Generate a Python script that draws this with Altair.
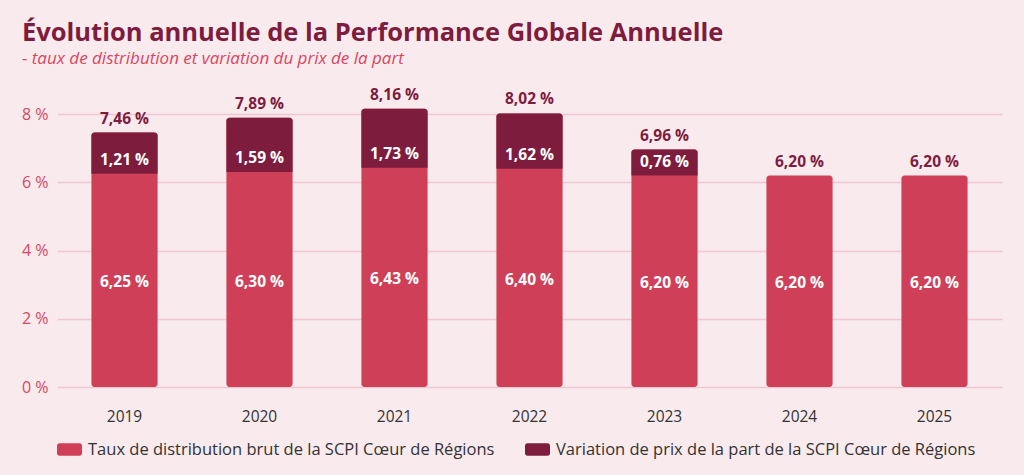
import altair as alt
import pandas as pd

years = ["2019", "2020", "2021", "2022", "2023", "2024", "2025"]
taux = [6.25, 6.30, 6.43, 6.40, 6.20, 6.20, 6.20]
variation = [1.21, 1.59, 1.73, 1.62, 0.76, 0.0, 0.0]
totals = [7.46, 7.89, 8.16, 8.02, 6.96, 6.20, 6.20]
series_names = ["Taux de distribution brut de la SCPI Cœur de Régions",
                "Variation de prix de la part de la SCPI Cœur de Régions"]
y_ticks = [0, 2, 4, 6, 8]

LIGHT = "#cf4058"
DARK = "#7e1c3e"
BG = "#f9eaee"
FONT = "Open Sans"


def fr(v):
    return f"{v:.2f}".replace(".", ",") + " %"


rows = []
for yr, t, v, tot in zip(years, taux, variation, totals):
    rows.append({"year": yr, "series": series_names[0], "y0": 0.0, "y1": tot,
                 "mid": t / 2, "label": fr(t), "kind": "base"})
    if v > 0:
        rows.append({"year": yr, "series": series_names[1], "y0": t, "y1": tot,
                     "mid": t, "label": fr(v), "kind": "top"})
df = pd.DataFrame(rows)
tot_df = pd.DataFrame({"year": years, "total": totals, "label": [fr(v) for v in totals]})

x_enc = alt.X("year:N", title=None, sort=years,
              scale=alt.Scale(paddingInner=0.51, paddingOuter=0.255),
              axis=alt.Axis(labelAngle=0, ticks=False, domain=False, labelFontSize=15.5,
                            labelColor="#333333", labelPadding=22, labelFont=FONT))
y_scale = alt.Scale(domain=[0, 9], nice=False)
y_axis = alt.Axis(values=y_ticks, labelExpr="datum.value + ' %'", ticks=False, domain=False,
                  labelFontSize=16, labelColor="#d9465e", labelPadding=9, labelFont=FONT,
                  gridColor="#f0c6d0", gridWidth=1.5, title=None)
color = alt.Color("series:N", sort=series_names,
                  scale=alt.Scale(domain=series_names, range=[LIGHT, DARK]),
                  legend=alt.Legend(title=None, orient="none", direction="horizontal",
                                    legendX=0, legendY=357, labelFontSize=16.5,
                                    labelColor="#333333", labelFont=FONT,
                                    symbolType="M-0.8,-0.5H0.8A0.2,0.2 0 0 1 1,-0.3V0.3A0.2,0.2 0 0 1 0.8,0.5H-0.8A0.2,0.2 0 0 1 -1,0.3V-0.3A0.2,0.2 0 0 1 -0.8,-0.5Z",
                                    symbolSize=625, symbolStrokeWidth=0, symbolOpacity=1,
                                    labelOffset=6, columnPadding=30, labelLimit=600))

base = alt.Chart(df)
bars_base = base.transform_filter("datum.kind == 'base'").mark_bar(cornerRadius=3).encode(
    x=x_enc, y=alt.Y("y0:Q", scale=y_scale, axis=y_axis), y2="y1:Q", color=color)
bars_top = base.transform_filter("datum.kind == 'top'").mark_bar(
    cornerRadiusTopLeft=3, cornerRadiusTopRight=3).encode(
    x=alt.X("year:N", sort=years), y="y0:Q", y2="y1:Q", color=color)
txt_base = base.transform_filter("datum.kind == 'base'").mark_text(
    color="white", fontWeight="bold", fontSize=15.5, font=FONT, dy=2).encode(
    x=alt.X("year:N", sort=years), y="mid:Q", text="label:N")
txt_top = base.transform_filter("datum.kind == 'top'").mark_text(
    color="white", fontWeight="bold", fontSize=15.5, font=FONT, dy=-14).encode(
    x=alt.X("year:N", sort=years), y="mid:Q", text="label:N")
txt_tot = alt.Chart(tot_df).mark_text(
    color=DARK, fontWeight="bold", fontSize=15.5, font=FONT, dy=-14).encode(
    x=alt.X("year:N", sort=years), y="total:Q", text="label:N")

chart = alt.layer(bars_base, bars_top, txt_base, txt_top, txt_tot).properties(
    width=945, height=307,
    title=alt.Title("Évolution annuelle de la Performance Globale Annuelle",
                    subtitle="- taux de distribution et variation du prix de la part",
                    anchor="start", frame="group", dx=-35, offset=13,
                    font=FONT, fontSize=25.5, fontWeight="bold", color=DARK,
                    subtitleFont=FONT, subtitleFontSize=17, subtitleFontStyle="italic",
                    subtitleColor="#d9465e", subtitlePadding=5),
    autosize=alt.AutoSizeParams(type="none"),
    padding={"left": 57, "top": 80, "right": 22, "bottom": 88},
    background=BG,
).configure_view(stroke=None)

chart.save("out.html", embed_options={"renderer": "svg", "actions": False})
